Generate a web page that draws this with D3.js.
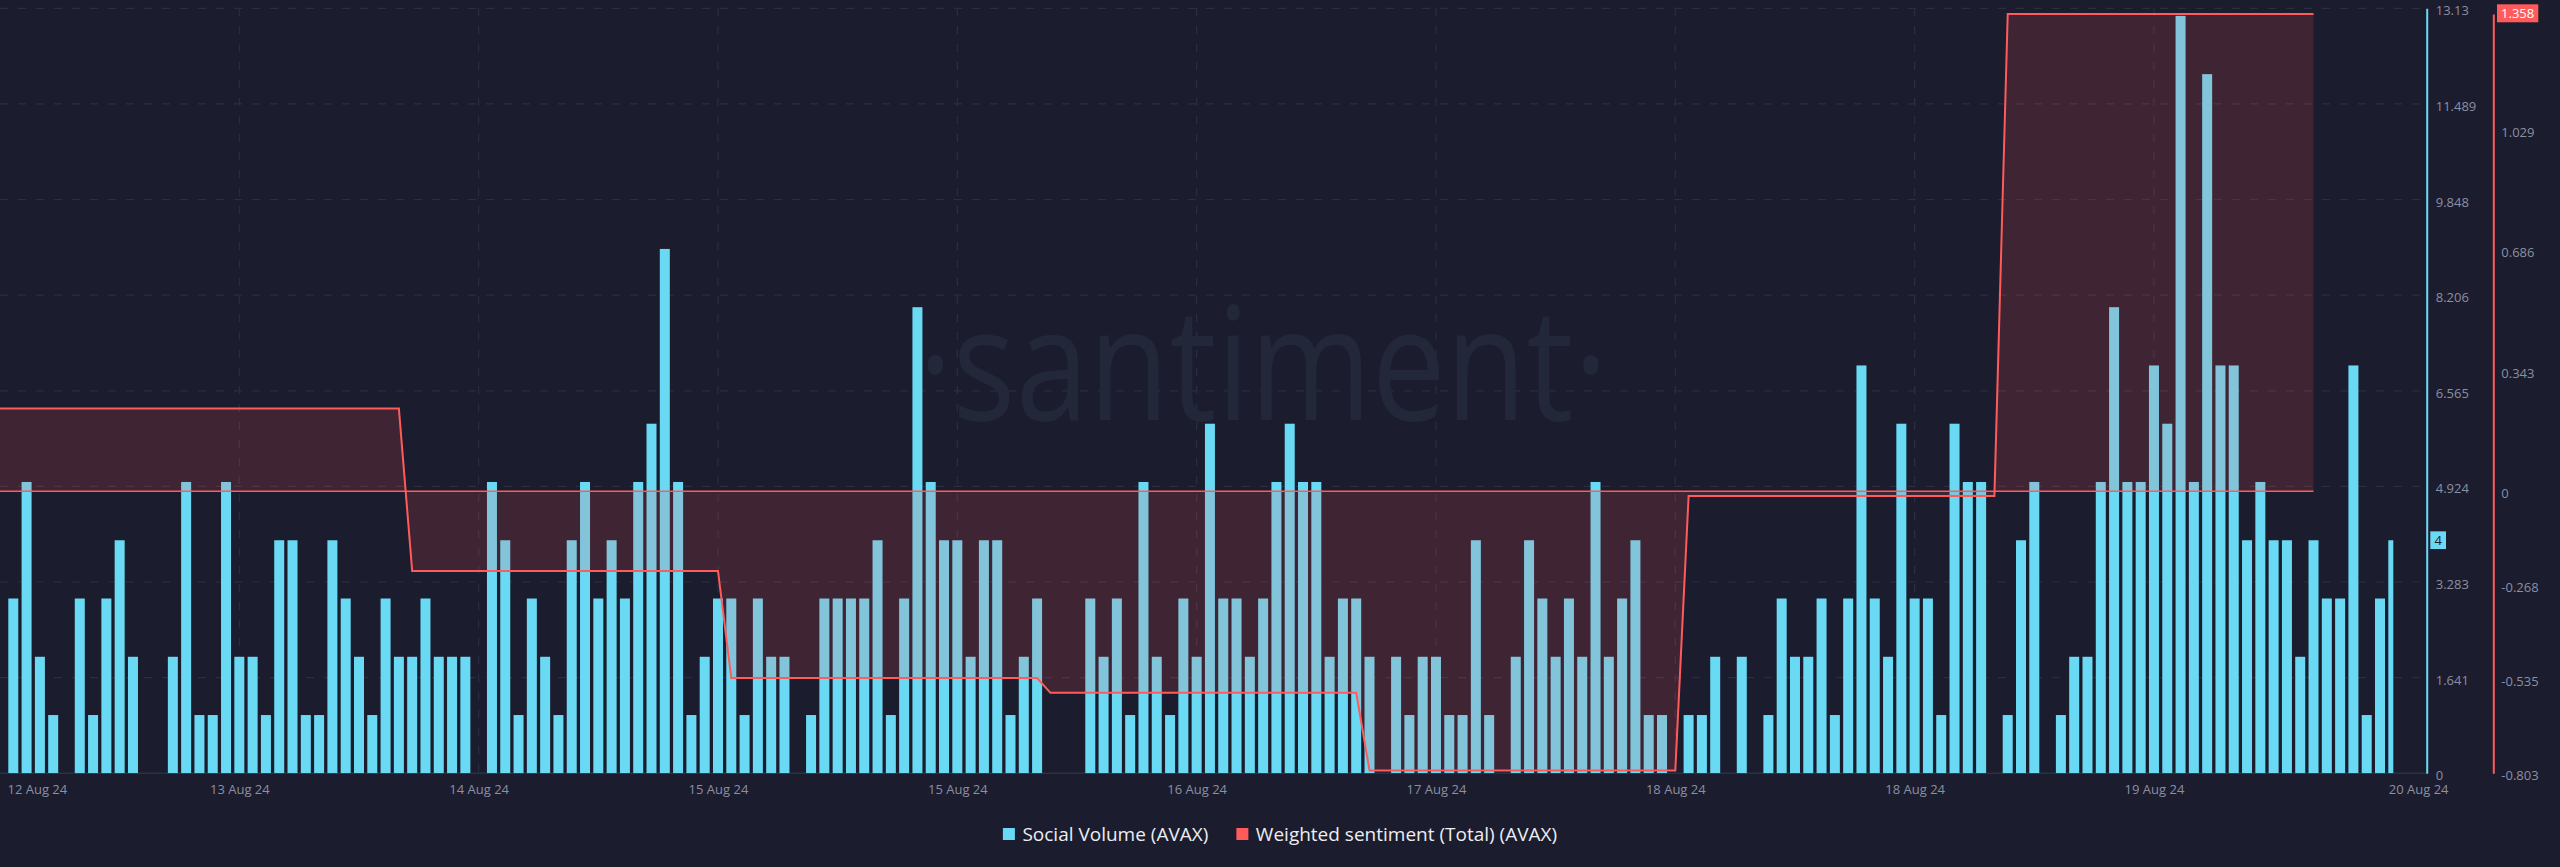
<!DOCTYPE html>
<html>
<head>
<meta charset="utf-8">
<script src="https://cdn.jsdelivr.net/npm/d3@7/dist/d3.min.js"></script>
<style>
html,body{margin:0;padding:0;background:#1b1c2d;}
svg{display:block;}
text{font-family:"Open Sans","Noto Sans",sans-serif;}
</style>
</head>
<body>
<svg id="chart" width="2560" height="867"></svg>
<script>
// ---- tick labels ----
const xTickIndex = [0, 18, 36, 54, 72, 90, 108, 126, 144, 162, 180];
const xTickLabels = ["12 Aug 24","13 Aug 24","14 Aug 24","15 Aug 24","15 Aug 24","16 Aug 24","17 Aug 24","18 Aug 24","18 Aug 24","19 Aug 24","20 Aug 24"];
const volTicks = [0, 1.641, 3.283, 4.924, 6.565, 8.206, 9.848, 11.489, 13.13];
const sentTicks = [-0.803, -0.535, -0.268, 0, 0.343, 0.686, 1.029];
const sentMaxLabel = 1.358;

// ---- series: hourly social volume (index 0..180) ----
const socialVolume = [
  0,
  3,5,2,1,0,3,1,3,4,2,
  0,0,2,5,1,1,5,2,2,1,
  4,4,1,1,4,3,2,1,3,2,
  2,3,2,2,2,0,5,4,1,3,
  2,1,4,5,3,4,3,5,6,9,
  5,1,2,3,3,1,3,2,2,0,
  1,3,3,3,3,4,1,3,8,5,
  4,4,2,4,4,1,2,3,0,0,
  0,3,2,3,1,5,2,1,3,2,
  6,3,3,2,3,5,6,5,5,2,
  3,3,2,0,2,1,2,2,1,1,
  4,1,0,2,4,3,2,3,2,5,
  2,3,4,1,1,0,1,1,2,0,
  2,0,1,3,2,2,3,1,3,7,
  3,2,6,3,3,1,6,5,5,0,
  1,4,5,0,1,2,2,5,8,5,
  5,7,6,13,5,12,7,7,4,5,
  4,4,2,4,3,3,7,1,3,4
];

// ---- series: hourly weighted sentiment (index 0..174) ----
const sentiment = [
  0.235,0.235,0.235,0.235,0.235,0.235,0.235,0.235,0.235,0.235,0.235,0.235,0.235,0.235,0.235,0.235,
  0.235,0.235,0.235,0.235,0.235,0.235,0.235,0.235,0.235,0.235,0.235,0.235,0.235,0.235,0.235,
  -0.227,-0.227,-0.227,-0.227,-0.227,-0.227,-0.227,-0.227,-0.227,-0.227,-0.227,-0.227,
  -0.227,-0.227,-0.227,-0.227,-0.227,-0.227,-0.227,-0.227,-0.227,-0.227,-0.227,-0.227,
  -0.532,-0.532,-0.532,-0.532,-0.532,-0.532,-0.532,-0.532,-0.532,-0.532,-0.532,-0.532,
  -0.532,-0.532,-0.532,-0.532,-0.532,-0.532,-0.532,-0.532,-0.532,-0.532,-0.532,-0.532,
  -0.574,-0.574,-0.574,-0.574,-0.574,-0.574,-0.574,-0.574,-0.574,-0.574,-0.574,-0.574,
  -0.574,-0.574,-0.574,-0.574,-0.574,-0.574,-0.574,-0.574,-0.574,-0.574,-0.574,-0.574,
  -0.795,-0.795,-0.795,-0.795,-0.795,-0.795,-0.795,-0.795,-0.795,-0.795,-0.795,-0.795,
  -0.795,-0.795,-0.795,-0.795,-0.795,-0.795,-0.795,-0.795,-0.795,-0.795,-0.795,-0.795,
  -0.014,-0.014,-0.014,-0.014,-0.014,-0.014,-0.014,-0.014,-0.014,-0.014,-0.014,-0.014,
  -0.014,-0.014,-0.014,-0.014,-0.014,-0.014,-0.014,-0.014,-0.014,-0.014,-0.014,-0.014,
  1.358,1.358,1.358,1.358,1.358,1.358,1.358,1.358,1.358,1.358,1.358,1.358,
  1.358,1.358,1.358,1.358,1.358,1.358,1.358,1.358,1.358,1.358,1.358,1.358
];

const seriesNames = ["Social Volume (AVAX)", "Weighted sentiment (Total) (AVAX)"];

// ---- styling ----
const CYAN = "#6adaf4", RED = "#ff5b5b", BG = "#1b1c2d";
const GRID = "#2a2e41", LABEL = "#8b8fa3";

const svg = d3.select("#chart");
svg.append("rect").attr("width", 2560).attr("height", 867).attr("fill", BG);

const x = d3.scaleLinear().domain([0, 180]).range([0, 2393.3]);
const yVol = d3.scaleLinear().domain([0, 13.13]).range([773.3, 8.3]);
const ySent = d3.scaleLinear().domain([-0.803, 1.358]).range([773.3, 14]);

const defs = svg.append("defs");
defs.append("clipPath").attr("id", "plotClip")
  .append("rect").attr("x", 0).attr("y", 0).attr("width", x(180)).attr("height", 773.3);

// grid
const grid = svg.append("g");
grid.selectAll("line.h").data(volTicks.slice(1)).join("line")
  .attr("x1", 0).attr("x2", 2426).attr("y1", d => yVol(d)).attr("y2", d => yVol(d))
  .attr("stroke", GRID).attr("stroke-width", 1.2).attr("stroke-dasharray", "8,10");
grid.selectAll("line.v").data(xTickIndex.slice(1, -1)).join("line")
  .attr("x1", d => x(d)).attr("x2", d => x(d)).attr("y1", 8).attr("y2", 773.3)
  .attr("stroke", GRID).attr("stroke-width", 1.2).attr("stroke-dasharray", "8,10");
grid.append("line").attr("x1", 0).attr("x2", 2426).attr("y1", yVol(0)).attr("y2", yVol(0))
  .attr("stroke", "#2c3044").attr("stroke-width", 1.5);

// watermark
svg.append("text")
  .attr("x", 918).attr("y", 420)
  .attr("textLength", 690).attr("lengthAdjust", "spacingAndGlyphs")
  .attr("font-size", 158).attr("fill", "#23273a")
  .text("\u00B7santiment\u00B7");

// bars
const plot = svg.append("g").attr("clip-path", "url(#plotClip)");
plot.selectAll("rect.bar").data(socialVolume.map((v, i) => ({i, v})).filter(d => d.v > 0)).join("rect")
  .attr("x", d => x(d.i) - 5).attr("width", 10)
  .attr("y", d => yVol(d.v)).attr("height", d => yVol(0) - yVol(d.v))
  .attr("fill", CYAN);

// sentiment area + lines
const sentData = sentiment.map((v, i) => ({i, v}));
plot.append("path").datum(sentData)
  .attr("d", d3.area().x(d => x(d.i)).y0(ySent(0)).y1(d => ySent(d.v)))
  .attr("fill", "rgba(255,85,92,0.16)");
plot.append("line")
  .attr("x1", x(0)).attr("x2", x(sentiment.length - 1))
  .attr("y1", ySent(0)).attr("y2", ySent(0))
  .attr("stroke", RED).attr("stroke-width", 1.5);
plot.append("path").datum(sentData)
  .attr("d", d3.line().x(d => x(d.i)).y(d => ySent(d.v)))
  .attr("fill", "none").attr("stroke", RED).attr("stroke-width", 2);

// x axis
const xAxis = svg.append("g").attr("transform", `translate(0,${yVol(0)})`)
  .call(d3.axisBottom(x).tickValues(xTickIndex).tickFormat((d, k) => xTickLabels[k]).tickSize(0).tickPadding(11.5));
xAxis.select(".domain").remove();
xAxis.selectAll("text").attr("fill", LABEL).attr("font-size", 13).style("font-family", '"Open Sans",sans-serif');
xAxis.selectAll(".tick").filter(d => d === 0).select("text").attr("text-anchor", "start").attr("x", 7);
xAxis.selectAll(".tick").filter(d => d === 180).select("text").attr("text-anchor", "start").attr("x", -5);

// volume axis (right)
const volAxis = svg.append("g").attr("transform", "translate(2426.7,0)")
  .call(d3.axisRight(yVol).tickValues(volTicks).tickFormat(d => String(d)).tickSize(0).tickPadding(9));
volAxis.select(".domain").attr("stroke", CYAN).attr("stroke-width", 2);
volAxis.selectAll("text").attr("fill", LABEL).attr("font-size", 13).attr("dy", "0.5em")
  .style("font-family", '"Open Sans",sans-serif');

// sentiment axis (right)
const sentAxis = svg.append("g").attr("transform", "translate(2493.3,0)")
  .call(d3.axisRight(ySent).tickValues(sentTicks).tickFormat(d => String(d)).tickSize(0).tickPadding(8));
sentAxis.select(".domain").attr("stroke", RED).attr("stroke-width", 2);
sentAxis.selectAll("text").attr("fill", LABEL).attr("font-size", 13).attr("dy", "0.5em")
  .style("font-family", '"Open Sans",sans-serif');

// last-value badges
const lastVol = socialVolume[socialVolume.length - 1];
const volBadge = svg.append("g").attr("transform", `translate(2430.3,${yVol(lastVol)})`);
volBadge.append("rect").attr("x", 0).attr("y", -8.9).attr("width", 15.7).attr("height", 17.7).attr("fill", CYAN);
volBadge.append("text").attr("x", 7.85).attr("y", 0).attr("dy", "0.36em").attr("text-anchor", "middle")
  .attr("font-size", 13).attr("fill", BG).text(String(lastVol));

const sentBadge = svg.append("g").attr("transform", `translate(2497,${ySent(sentMaxLabel)})`);
sentBadge.append("rect").attr("x", 0).attr("y", -9.7).attr("width", 41.3).attr("height", 18).attr("fill", RED);
sentBadge.append("text").attr("x", 20.65).attr("y", -0.7).attr("dy", "0.36em").attr("text-anchor", "middle")
  .attr("font-size", 13).attr("fill", "#ffffff").text(String(sentMaxLabel));

// legend
const legend = svg.append("g");
const colors = [CYAN, RED];
let cursor = 0;
const items = seriesNames.map((name, k) => {
  const g = legend.append("g");
  g.append("rect").attr("x", 0).attr("y", -6).attr("width", 12).attr("height", 12).attr("fill", colors[k]);
  const t = g.append("text").attr("x", 19.5).attr("y", 0).attr("dy", "0.35em")
    .attr("font-size", 19).attr("fill", "#eceef3").text(name);
  const w = 19.5 + t.node().getComputedTextLength();
  g.attr("transform", `translate(${cursor},0)`);
  cursor += w + 28;
  return w;
});
const totalW = cursor - 28;
legend.attr("transform", `translate(${1280 - totalW / 2},834)`);
</script>
</body>
</html>
